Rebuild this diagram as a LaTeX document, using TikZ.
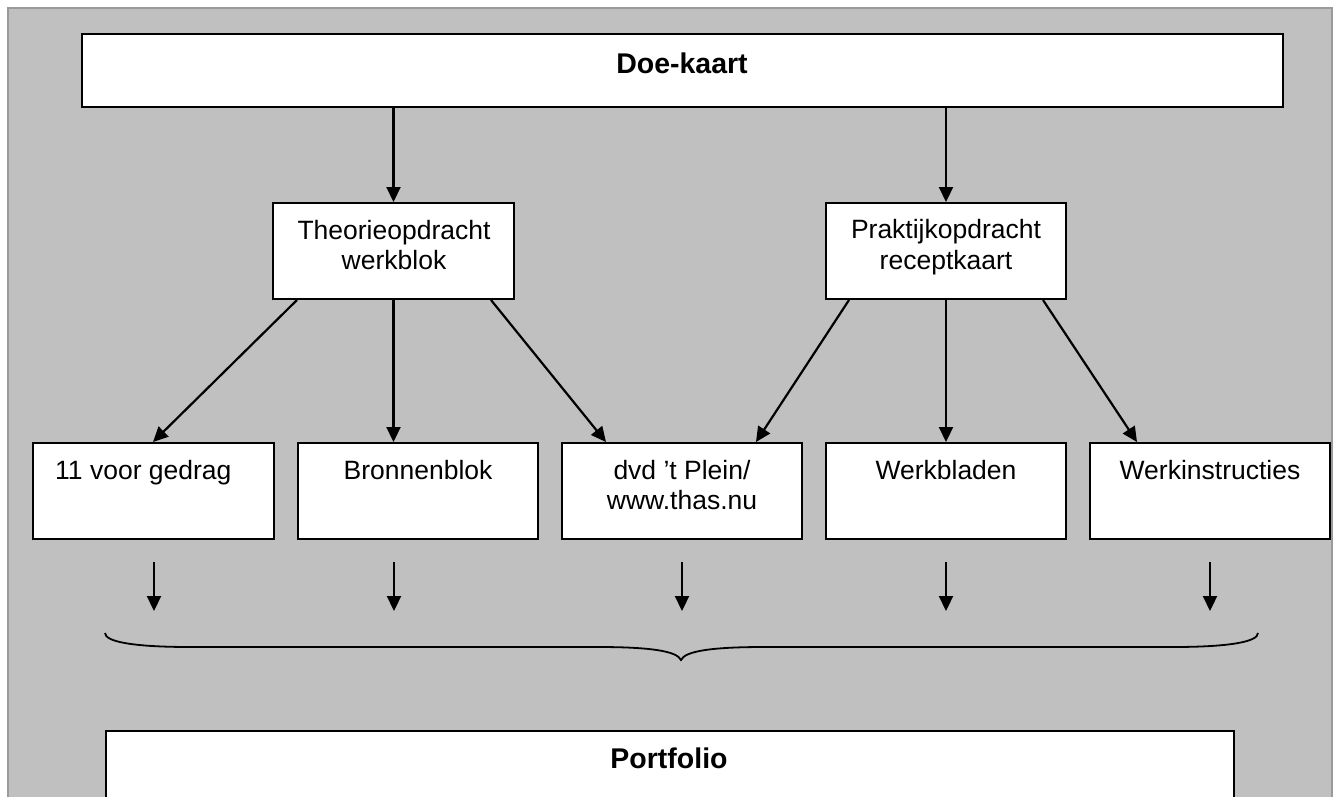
\documentclass[tikz,border=0pt]{standalone}
\usepackage{fontspec}
\setmainfont{Liberation Sans}
\usetikzlibrary{arrows.meta}
\definecolor{panelgray}{HTML}{C0C0C0}
\definecolor{panelborder}{HTML}{9A9A9A}
\tikzset{
  box/.style={draw=black, fill=white, line width=2pt, inner sep=0pt},
  txt/.style={font=\fontsize{26.5}{30}\selectfont, inner sep=0pt, align=center},
  btxt/.style={font=\fontsize{28.5}{32}\selectfont\bfseries, inner sep=0pt},
  arr/.style={line width=2.2pt, -{Triangle[length=15pt,width=14pt]}},
  bracestyle/.style={line width=1.8pt}
}
\begin{document}
\begin{tikzpicture}[x=1pt,y=-1pt]
\useasboundingbox (0,0) rectangle (1339,796);
\fill[white] (0,0) rectangle (1339,796);
\draw[fill=panelgray, draw=panelborder, line width=1.5pt] (8,830) -- (8,8) -- (1332,8) -- (1332,830);

% boxes
\node[box, minimum width=1201pt, minimum height=73pt] (doe) at (682.5,70.5) {};
\node[box, minimum width=241pt, minimum height=96pt] (theo) at (393.5,251) {};
\node[box, minimum width=240pt, minimum height=96pt] (prak) at (946,251) {};
\node[box, minimum width=241pt, minimum height=96pt] (g11) at (153.5,491) {};
\node[box, minimum width=240pt, minimum height=96pt] (bron) at (418,491) {};
\node[box, minimum width=240pt, minimum height=96pt] (dvd) at (682,491) {};
\node[box, minimum width=240pt, minimum height=96pt] (werkbl) at (946,491) {};
\node[box, minimum width=240pt, minimum height=96pt] (werkin) at (1210,491) {};
\node[box, anchor=north west, minimum width=1128pt, minimum height=120pt] (port) at (105,730) {};

% texts
\node[btxt, anchor=base] (tdoe) at (682,73) {Doe-kaart};
\node[txt, anchor=base] (ttheo1) at (394,239) {Theorieopdracht};
\node[txt, anchor=base] (ttheo2) at (394,269) {werkblok};
\node[txt, anchor=base] (tprak1) at (946,238) {Praktijkopdracht};
\node[txt, anchor=base] (tprak2) at (946,269) {receptkaart};
\node[txt, anchor=base west] (tg11) at (55,479) {11 voor gedrag};
\node[txt, anchor=base] (tbron) at (418,479) {Bronnenblok};
\node[txt, anchor=base] (tdvd1) at (682,479) {dvd ’t Plein/};
\node[txt, anchor=base] (tdvd2) at (682,509) {www.thas.nu};
\node[txt, anchor=base] (twerkbl) at (946,479) {Werkbladen};
\node[txt, anchor=base] (twerkin) at (1210,479) {Werkinstructies};
\node[btxt, anchor=base] (tport) at (669,768) {Portfolio};

% connectors
\draw[arr] (doe.south -| theo.north) -- (theo.north);
\draw[arr] (doe.south -| prak.north) -- (prak.north);
\draw[arr] ([xshift=25pt]theo.south west) -- ([xshift=121pt]g11.north west);
\draw[arr] (theo.south) -- (theo.south |- bron.north);
\draw[arr] ([xshift=-24pt]theo.south east) -- ([xshift=45pt]dvd.north west);
\draw[arr] ([xshift=24pt]prak.south west) -- ([xshift=-47pt]dvd.north east);
\draw[arr] (prak.south) -- (werkbl.north);
\draw[arr] ([xshift=-24pt]prak.south east) -- ([xshift=48pt]werkin.north west);

% small arrows
\foreach \i/\x in {1/154,2/394,3/682,4/946,5/1210}{
  \coordinate (s\i) at (\x,562);
  \coordinate (e\i) at (\x,611);
  \draw[arr] (s\i) -- (e\i);
}

% brace
\coordinate (brL) at (105,633);
\coordinate (brT) at (681,660);
\coordinate (brR) at (1258,633);
\draw[bracestyle] (brL) .. controls (105,642) and (135,647) .. (190,647)
  -- (598,647) .. controls (650,647) and (677,651) .. (brT)
  .. controls (685,651) and (712,647) .. (764,647)
  -- (1173,647) .. controls (1228,647) and (1258,642) .. (brR);
\end{tikzpicture}
\end{document}
